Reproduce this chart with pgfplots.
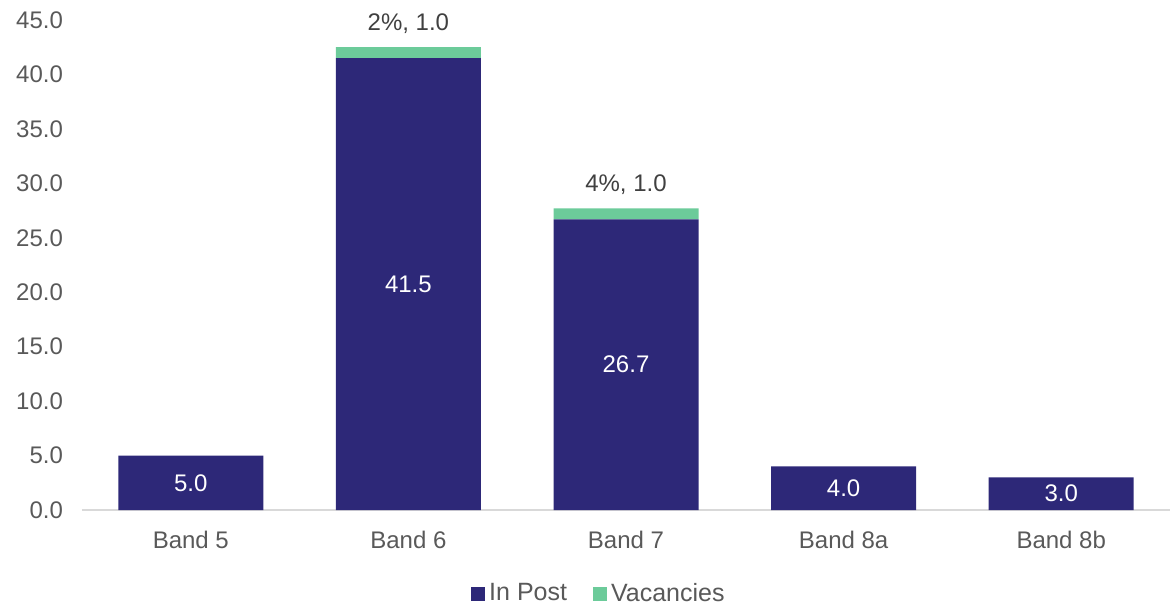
\documentclass[border=0pt]{standalone}
\usepackage{pgfplots}
\pgfplotsset{compat=1.18}
\usepackage{fontspec}
\setmainfont{Liberation Sans}
\definecolor{navy}{HTML}{2D2878}
\definecolor{mint}{HTML}{6CCB9A}
\definecolor{txt}{HTML}{595959}
\definecolor{axl}{HTML}{D9D9D9}
\begin{document}
\begin{tikzpicture}
\begin{axis}[
  scale only axis, width=544pt, height=245pt,
  ybar stacked, bar width=72.5pt,
  xmin=-0.5, xmax=4.5, ymin=0, ymax=45,
  xtick={0,1,2,3,4},
  xticklabels={Band 5,Band 6,Band 7,Band 8a,Band 8b},
  ytick={0,5,...,45},
  yticklabel={\pgfmathprintnumber[fixed,fixed zerofill,precision=1]{\tick}},
  /pgf/number format/assume math mode=true,
  axis x line*=bottom, axis y line*=left,
  y axis line style={draw=none},
  x axis line style={draw=axl, line width=0.8pt},
  major tick length=0pt,
  tick label style={font=\fontsize{12}{14}\selectfont, text=txt},
  yticklabel style={xshift=-6pt},
  xticklabel style={yshift=-7pt},
  legend style={at={(0.476,-0.171)}, anchor=center, draw=none, legend columns=2,
    font=\fontsize{12.5}{14}\selectfont, text=txt,
    /tikz/every even column/.append style={column sep=11pt}},
  legend image code/.code={\fill[#1] (0pt,-3.5pt) rectangle (7pt,3.5pt);},
]
\addplot[fill=navy, draw=none,
  nodes near coords={\pgfmathprintnumber[fixed,fixed zerofill,precision=1]{\pgfplotspointmeta}},
  every node near coord/.style={anchor=center, text=white,
    font=\fontsize{12}{14}\selectfont},
] coordinates {(0,5.0) (1,41.5) (2,26.7) (3,4.0) (4,3.0)};
\addlegendentry{In Post}
\addplot[fill=mint, draw=none,
  point meta=explicit symbolic,
  nodes near coords,
  every node near coord/.style={anchor=center, text=black!75,
    font=\fontsize{12}{14}\selectfont, yshift=14.5pt},
] coordinates {(0,0) [\relax] (1,1.0) [2\%, 1.0] (2,1.0) [4\%, 1.0] (3,0) [\relax] (4,0) [\relax]};
\addlegendentry{Vacancies}
\end{axis}
\path ([shift={(-41pt,-49pt)}]current axis.south west) rectangle ([shift={(3pt,10pt)}]current axis.north east);
\end{tikzpicture}
\end{document}
